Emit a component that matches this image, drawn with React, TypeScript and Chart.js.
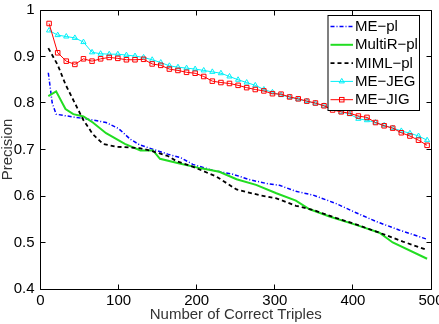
import React, { useEffect, useRef } from 'react';
import { Chart, registerables } from 'chart.js';

Chart.register(...registerables);

const FONT = '"Liberation Sans", Arial, Helvetica, sans-serif';

// Axis ticks
const xTicks = [0, 100, 200, 300, 400, 500];
const yTicks = [0.4, 0.5, 0.6, 0.7, 0.8, 0.9, 1];

// ME-pl (dash-dot blue)
const mePlX = [10, 15, 20, 30, 50, 65, 84, 100, 115, 127, 145, 163, 180, 195, 221, 246, 268, 289, 306, 327, 349, 378, 404, 430, 459, 495];
const mePlY = [0.865, 0.8, 0.776, 0.773, 0.768, 0.764, 0.758, 0.745, 0.722, 0.71, 0.7, 0.69, 0.682, 0.668, 0.655, 0.647, 0.635, 0.627, 0.623, 0.61, 0.602, 0.584, 0.564, 0.545, 0.527, 0.507];

// MultiR-pl (solid green)
const multiRX = [10, 20, 32, 42, 55, 67, 84, 108, 128, 144, 153, 178, 204, 229, 251, 276, 302, 327, 344, 370, 404, 434, 451, 495];
const multiRY = [0.815, 0.825, 0.787, 0.776, 0.771, 0.758, 0.735, 0.712, 0.698, 0.698, 0.68, 0.67, 0.66, 0.652, 0.636, 0.624, 0.606, 0.59, 0.572, 0.556, 0.538, 0.521, 0.5, 0.465];

// MIML-pl (dashed black)
const mimlX = [10, 22, 32, 43, 55, 67, 80, 97, 127, 144, 163, 174, 195, 225, 251, 280, 302, 327, 349, 378, 404, 434, 464, 495];
const mimlY = [0.918, 0.882, 0.84, 0.803, 0.763, 0.733, 0.712, 0.706, 0.703, 0.696, 0.686, 0.675, 0.663, 0.642, 0.614, 0.602, 0.595, 0.579, 0.57, 0.553, 0.539, 0.521, 0.502, 0.484];

// Shared x positions of the marked series
const markX = [11, 22, 33, 44, 55, 66, 77, 88, 99, 110, 121, 132, 143, 154, 165, 176, 187, 198, 209, 220, 231, 242, 253, 264, 275, 286, 297, 308, 319, 330, 341, 352, 363, 374, 385, 396, 407, 418, 429, 440, 451, 462, 473, 484, 495];

// ME-JEG (cyan, triangles)
const meJegY = [0.956, 0.946, 0.943, 0.94, 0.931, 0.909, 0.906, 0.905, 0.905, 0.903, 0.901, 0.898, 0.893, 0.887, 0.88, 0.877, 0.875, 0.873, 0.87, 0.867, 0.864, 0.857, 0.85, 0.844, 0.838, 0.829, 0.823, 0.817, 0.813, 0.808, 0.804, 0.799, 0.794, 0.788, 0.781, 0.776, 0.766, 0.763, 0.758, 0.752, 0.746, 0.74, 0.735, 0.729, 0.72];

// ME-JIG (red, squares)
const meJigY = [0.971, 0.908, 0.89, 0.883, 0.895, 0.89, 0.895, 0.898, 0.896, 0.893, 0.893, 0.894, 0.884, 0.881, 0.873, 0.87, 0.866, 0.864, 0.857, 0.847, 0.844, 0.842, 0.838, 0.833, 0.829, 0.826, 0.82, 0.819, 0.813, 0.809, 0.804, 0.8, 0.794, 0.785, 0.781, 0.778, 0.772, 0.769, 0.758, 0.751, 0.746, 0.736, 0.729, 0.72, 0.709];

const pts = (xs: number[], ys: number[]) => xs.map((x, i) => ({ x, y: ys[i] }));

const BLUE = '#0000ff';
const GREEN = '#22dd22';
const BLACK = '#000000';
const CYAN = '#00f0f8';
const RED = '#ff0000';
const FONT_SIZE = 15;

// Box frame with inward tick marks on all four sides
const framePlugin = {
  id: 'frameTicks',
  afterDatasetsDraw(chart: any) {
    const { ctx, chartArea: a, scales } = chart;
    const snap = (v: number) => Math.floor(v) + 0.5;
    const L = Math.floor(a.left) + 0.5;
    const R = Math.floor(a.right) + 0.5;
    const T = Math.floor(a.top) + 0.5;
    const B = Math.floor(a.bottom) + 0.5;
    const len = 5;
    ctx.save();
    ctx.strokeStyle = '#000';
    ctx.lineWidth = 1;
    ctx.setLineDash([]);
    ctx.beginPath();
    ctx.rect(L, T, R - L, B - T);
    scales.x.ticks.forEach((t: any) => {
      const px = snap(scales.x.getPixelForValue(t.value));
      ctx.moveTo(px, B);
      ctx.lineTo(px, B - len);
      ctx.moveTo(px, T);
      ctx.lineTo(px, T + len);
    });
    scales.y.ticks.forEach((t: any) => {
      const py = snap(scales.y.getPixelForValue(t.value));
      ctx.moveTo(L, py);
      ctx.lineTo(L + len, py);
      ctx.moveTo(R, py);
      ctx.lineTo(R - len, py);
    });
    ctx.stroke();
    ctx.restore();
  },
};

// Boxed legend in the upper right, line sample with marker per series
const legendPlugin = {
  id: 'boxLegend',
  afterDraw(chart: any) {
    const { ctx, chartArea: a } = chart;
    const right = Math.floor(a.right) - 11.5;
    const left = right - 91.5;
    const top = Math.floor(a.top) + 5.5;
    const height = 95;
    ctx.save();
    ctx.fillStyle = '#fff';
    ctx.fillRect(left, top, right - left, height);
    ctx.strokeStyle = '#000';
    ctx.lineWidth = 1;
    ctx.setLineDash([]);
    ctx.strokeRect(left, top, right - left, height);
    ctx.font = `${FONT_SIZE}px ${FONT}`;
    ctx.textBaseline = 'middle';
    ctx.textAlign = 'left';
    chart.data.datasets.forEach((ds: any, i: number) => {
      const y = top + 11 + i * 18.3;
      const x0 = left + 2.5;
      const x1 = left + 25;
      ctx.strokeStyle = ds.borderColor;
      ctx.lineWidth = ds.borderWidth;
      ctx.setLineDash(ds.borderDash || []);
      ctx.beginPath();
      ctx.moveTo(x0, y);
      ctx.lineTo(x1, y);
      ctx.stroke();
      ctx.setLineDash([]);
      ctx.lineWidth = 1;
      const cx = (x0 + x1) / 2;
      if (ds.pointStyle === 'rect') {
        ctx.strokeRect(cx - 2.25, y - 2.25, 4.5, 4.5);
      } else if (ds.pointStyle === 'triangle') {
        ctx.beginPath();
        ctx.moveTo(cx, y - 3);
        ctx.lineTo(cx + 2.6, y + 1.5);
        ctx.lineTo(cx - 2.6, y + 1.5);
        ctx.closePath();
        ctx.stroke();
      }
      ctx.fillStyle = '#000';
      ctx.fillText(ds.label, left + 27, y + 0.5);
    });
    ctx.restore();
  },
};

export default function App() {
  const ref = useRef<HTMLCanvasElement>(null);

  useEffect(() => {
    if (!ref.current) return;
    const chart = new Chart(ref.current, {
      type: 'line',
      data: {
        datasets: [
          {
            label: 'ME\u2212pl',
            data: pts(mePlX, mePlY),
            borderColor: BLUE,
            borderWidth: 1.5,
            borderDash: [4, 2, 1, 2],
            pointRadius: 0,
            order: 4,
          },
          {
            label: 'MultiR\u2212pl',
            data: pts(multiRX, multiRY),
            borderColor: GREEN,
            borderWidth: 2,
            pointRadius: 0,
            order: 3,
          },
          {
            label: 'MIML\u2212pl',
            data: pts(mimlX, mimlY),
            borderColor: BLACK,
            borderWidth: 1.8,
            borderDash: [4, 3],
            pointRadius: 0,
            order: 2,
          },
          {
            label: 'ME\u2212JEG',
            data: pts(markX, meJegY),
            borderColor: CYAN,
            borderWidth: 1,
            pointStyle: 'triangle',
            pointRadius: 3,
            pointBorderWidth: 1,
            pointBorderColor: CYAN,
            pointBackgroundColor: 'rgba(0,0,0,0)',
            order: 1,
          },
          {
            label: 'ME\u2212JIG',
            data: pts(markX, meJigY),
            borderColor: RED,
            borderWidth: 1,
            pointStyle: 'rect',
            pointRadius: 3.2,
            pointBorderWidth: 1,
            pointBorderColor: RED,
            pointBackgroundColor: 'rgba(0,0,0,0)',
            order: 0,
          },
        ] as any,
      },
      options: {
        animation: false,
        responsive: false,
        devicePixelRatio: 1,
        events: [],
        layout: { padding: { top: 10, right: 8, left: 0, bottom: 0 } },
        elements: { line: { tension: 0 } },
        plugins: {
          legend: { display: false },
          tooltip: { enabled: false },
        },
        scales: {
          x: {
            type: 'linear',
            min: 0,
            max: 500,
            afterBuildTicks: (s: any) => {
              s.ticks = xTicks.map((value) => ({ value }));
            },
            afterFit: (s: any) => {
              s.height = 35;
              s.paddingLeft = 0;
              s.paddingRight = 0;
            },
            grid: { display: false, drawTicks: false, tickLength: 0 },
            border: { display: false },
            ticks: {
              color: '#000',
              font: { family: FONT, size: FONT_SIZE },
              padding: 3,
              maxRotation: 0,
              autoSkip: false,
              callback: (v: any) => String(v),
            },
            title: {
              display: true,
              text: 'Number of Correct Triples',
              color: '#333',
              font: { family: FONT, size: FONT_SIZE },
              padding: { top: 0, bottom: 0 },
            },
          },
          y: {
            type: 'linear',
            min: 0.4,
            max: 1,
            afterBuildTicks: (s: any) => {
              s.ticks = yTicks.map((value) => ({ value }));
            },
            afterFit: (s: any) => {
              s.width = 40.5;
              s.paddingTop = 0;
              s.paddingBottom = 0;
            },
            grid: { display: false, drawTicks: false, tickLength: 0 },
            border: { display: false },
            ticks: {
              color: '#000',
              font: { family: FONT, size: FONT_SIZE },
              padding: 6,
              autoSkip: false,
              callback: (v: any) => String(Number(Number(v).toFixed(1))),
            },
            title: {
              display: true,
              text: 'Precision',
              color: '#333',
              font: { family: FONT, size: FONT_SIZE },
              padding: { top: -1, bottom: 0 },
            },
          },
        },
      } as any,
      plugins: [framePlugin, legendPlugin],
    });
    return () => chart.destroy();
  }, []);

  return (
    <div style={{ position: 'absolute', left: 0, top: 0, width: 439, height: 324, background: '#fff' }}>
      <canvas ref={ref} width={439} height={324} style={{ display: 'block', width: 439, height: 324 }} />
    </div>
  );
}
